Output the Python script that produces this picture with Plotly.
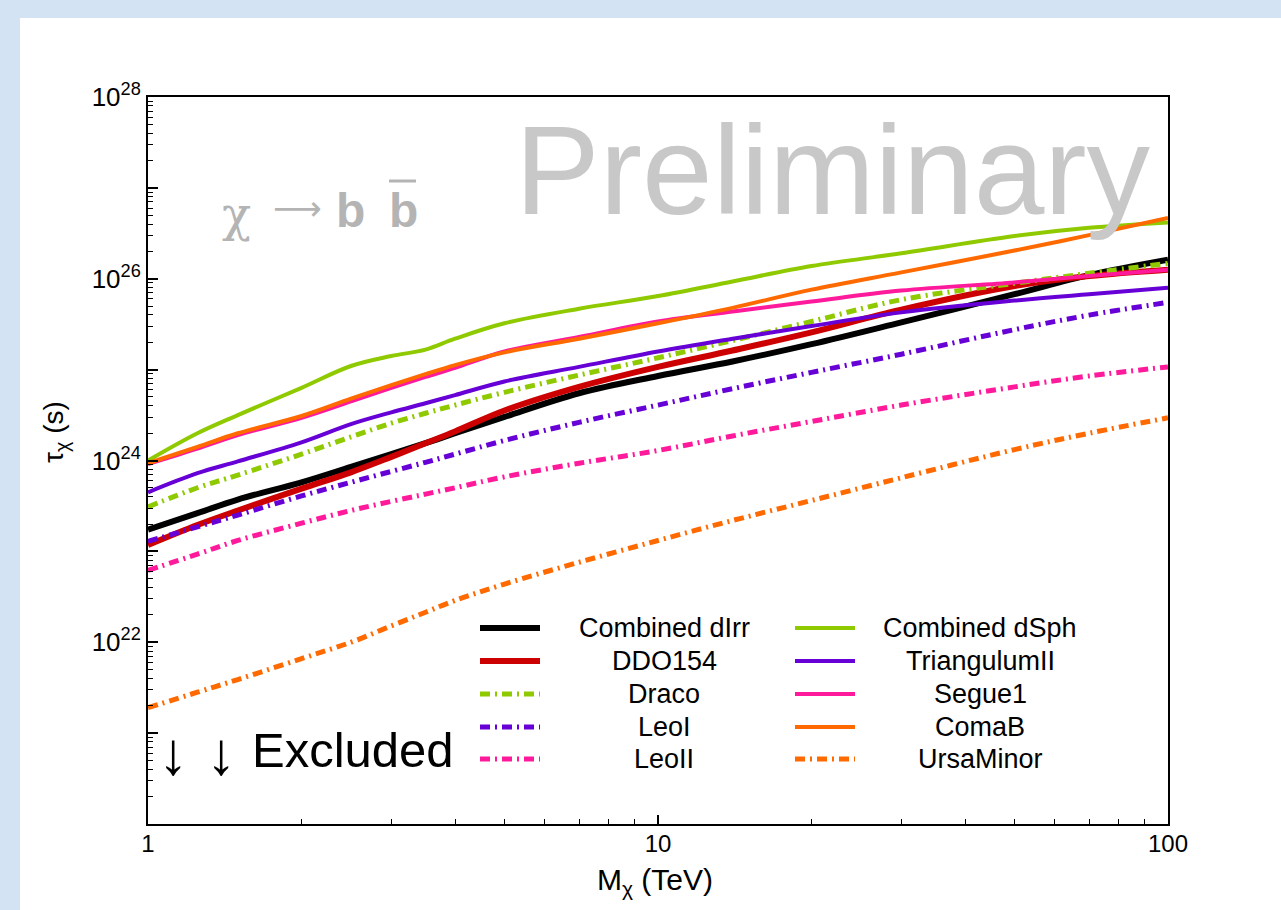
import plotly.graph_objects as go

# Dark-matter mass grid (TeV)
mass_tev = [1, 1.25, 1.5, 2, 2.5, 3, 3.5, 4, 5, 7, 10, 14, 20, 30, 50, 70, 100]

# 95% CL lower limits on the lifetime, stored as log10(tau / s)
log_tau_combined_dirr = [23.24, 23.42, 23.57, 23.76, 23.93, 24.07, 24.19, 24.30, 24.48, 24.74, 24.93, 25.09, 25.28, 25.52, 25.83, 26.04, 26.21]
log_tau_ddo154 = [23.07, 23.29, 23.45, 23.69, 23.87, 24.04, 24.19, 24.32, 24.55, 24.81, 25.03, 25.21, 25.41, 25.66, 25.92, 26.03, 26.10]
log_tau_draco = [23.49, 23.70, 23.84, 24.07, 24.26, 24.41, 24.52, 24.61, 24.75, 24.94, 25.13, 25.32, 25.53, 25.77, 25.95, 26.06, 26.17]
log_tau_leoi = [23.11, 23.27, 23.40, 23.61, 23.76, 23.88, 23.98, 24.07, 24.22, 24.42, 24.61, 24.79, 24.97, 25.17, 25.44, 25.60, 25.74]
log_tau_leoii = [22.79, 22.97, 23.12, 23.31, 23.45, 23.55, 23.63, 23.70, 23.82, 23.97, 24.11, 24.27, 24.43, 24.61, 24.81, 24.93, 25.03]
log_tau_combined_dsph = [24.00, 24.30, 24.50, 24.80, 25.04, 25.15, 25.22, 25.34, 25.51, 25.67, 25.81, 25.97, 26.14, 26.28, 26.47, 26.56, 26.62]
log_tau_triangulumii = [23.65, 23.86, 23.99, 24.20, 24.40, 24.53, 24.63, 24.72, 24.87, 25.03, 25.20, 25.34, 25.48, 25.63, 25.76, 25.83, 25.90]
log_tau_segue1 = [23.96, 24.13, 24.28, 24.47, 24.65, 24.80, 24.92, 25.02, 25.20, 25.36, 25.53, 25.64, 25.75, 25.87, 25.96, 26.03, 26.10]
log_tau_comab = [23.97, 24.15, 24.30, 24.49, 24.68, 24.83, 24.95, 25.05, 25.19, 25.34, 25.51, 25.68, 25.88, 26.07, 26.31, 26.48, 26.67]
log_tau_ursaminor = [21.28, 21.45, 21.59, 21.82, 22.00, 22.18, 22.33, 22.46, 22.64, 22.88, 23.12, 23.34, 23.56, 23.81, 24.12, 24.30, 24.47]

# Axis tick labels
x_tick_values = [1, 10, 100]
x_tick_labels = ["1", "10", "100"]
y_tick_exponents = [20, 21, 22, 23, 24, 25, 26, 27, 28]
y_labelled_exponents = [22, 24, 26, 28]

BLACK = "#000000"
RED = "#cc0000"
GREEN = "#8fca00"
VIOLET = "#6600d6"
PINK = "#ff1a9c"
ORANGE = "#ff6a00"
DASHDOT = "10px,5px,2px,5px"

# name, values, colour, dash, width, legend column
series = [
    ("Combined dIrr", log_tau_combined_dirr, BLACK, "solid", 6, 0),
    ("DDO154", log_tau_ddo154, RED, "solid", 6, 0),
    ("Draco", log_tau_draco, GREEN, DASHDOT, 5, 0),
    ("LeoI", log_tau_leoi, VIOLET, DASHDOT, 5, 0),
    ("LeoII", log_tau_leoii, PINK, DASHDOT, 5, 0),
    ("Combined dSph", log_tau_combined_dsph, GREEN, "solid", 4, 1),
    ("TriangulumII", log_tau_triangulumii, VIOLET, "solid", 4, 1),
    ("Segue1", log_tau_segue1, PINK, "solid", 4, 1),
    ("ComaB", log_tau_comab, ORANGE, "solid", 4, 1),
    ("UrsaMinor", log_tau_ursaminor, ORANGE, DASHDOT, 5, 1),
]

W, H = 1281, 910
PL, PR, PT, PB = 148, 1168, 97, 824
FONT = "Liberation Sans, Arial, Helvetica, sans-serif"


def fx(px):
    return (px - PL) / (PR - PL)


def fy(py):
    return (PB - py) / (PB - PT)


fig = go.Figure()
for name, vals, color, dash, width, _ in series:
    fig.add_trace(go.Scatter(
        x=mass_tev, y=[10 ** v for v in vals], mode="lines", name=name,
        line=dict(color=color, dash=dash, width=width, shape="spline", smoothing=1.0),
        showlegend=False,
    ))

shapes = [
    # white slide panel over the blue backdrop
    dict(type="rect", xref="paper", yref="paper", layer="below",
         x0=fx(20), x1=fx(W + 5), y0=fy(H + 5), y1=fy(18),
         fillcolor="white", line=dict(width=0)),
]
annotations = []

# two-column legend: sample line + centred label
row_y = [628, 661, 694, 727, 759]
col_sample = [(480, 540), (795, 855)]
col_text = [664, 980]
rows = [0, 0]
for name, vals, color, dash, width, col in series:
    r = rows[col]
    rows[col] += 1
    y = fy(row_y[r])
    shapes.append(dict(type="line", xref="paper", yref="paper", layer="above",
                       x0=fx(col_sample[col][0]), x1=fx(col_sample[col][1]), y0=y, y1=y,
                       line=dict(color=color, dash=dash, width=width)))
    annotations.append(dict(xref="paper", yref="paper", x=fx(col_text[col]), y=y,
                            text=name, showarrow=False, xanchor="center", yanchor="middle",
                            font=dict(family=FONT, size=27, color="black")))

# watermark and channel label
annotations.append(dict(xref="paper", yref="paper", x=fx(1153), y=fy(170), text="Preliminary",
                        showarrow=False, xanchor="right", yanchor="middle",
                        font=dict(family=FONT, size=127, color="#c8c8c8")))
GREY = "#b4b4b4"
annotations.append(dict(xref="paper", yref="paper", x=fx(236), y=fy(214), text="χ",
                        showarrow=False, xanchor="center", yanchor="middle",
                        font=dict(family="DejaVu Serif, serif", size=48, color=GREY)))
annotations.append(dict(xref="paper", yref="paper", x=fx(297), y=fy(208), text="⟶",
                        showarrow=False, xanchor="center", yanchor="middle",
                        font=dict(family="DejaVu Sans, sans-serif", size=34, color=GREY)))
for cx in [350, 403]:
    annotations.append(dict(xref="paper", yref="paper", x=fx(cx), y=fy(210), text="<b>b</b>",
                            showarrow=False, xanchor="center", yanchor="middle",
                            font=dict(family=FONT, size=48, color=GREY)))
shapes.append(dict(type="line", xref="paper", yref="paper", layer="above",
                   x0=fx(389), x1=fx(416), y0=fy(181), y1=fy(181),
                   line=dict(color=GREY, width=3)))

# excluded region marker
for cx in [173, 221]:
    annotations.append(dict(xref="paper", yref="paper", x=fx(cx), y=fy(753), text="↓",
                            showarrow=False, xanchor="center", yanchor="middle",
                            font=dict(family=FONT, size=60, color="black")))
annotations.append(dict(xref="paper", yref="paper", x=fx(250), y=fy(750), text="Excluded",
                        showarrow=False, xanchor="left", yanchor="middle",
                        font=dict(family=FONT, size=49, color="black")))

# axis titles
annotations.append(dict(xref="paper", yref="paper", x=fx(655), y=fy(881),
                        text="M<sub>χ</sub> (TeV)", showarrow=False,
                        xanchor="center", yanchor="middle",
                        font=dict(family=FONT, size=30, color="black")))
annotations.append(dict(xref="paper", yref="paper", x=fx(55), y=fy(432),
                        text="τ<sub>χ</sub> (s)", showarrow=False, textangle=-90,
                        xanchor="center", yanchor="middle",
                        font=dict(family=FONT, size=28, color="black")))

x_minor = [k * 10 ** d for d in (0, 1) for k in range(2, 10)]
y_minor = [k * 10.0 ** e for e in y_tick_exponents[:-1] for k in range(2, 10)]

fig.update_layout(
    width=W, height=H,
    margin=dict(l=PL, r=W - PR, t=PT, b=H - PB),
    paper_bgcolor="#d3e3f4", plot_bgcolor="rgba(0,0,0,0)",
    shapes=shapes, annotations=annotations,
    showlegend=False,
    xaxis=dict(
        type="log", range=[0, 2], showgrid=False, zeroline=False,
        showline=True, linecolor="black", linewidth=2, mirror=True,
        tickmode="array", tickvals=x_tick_values, ticktext=x_tick_labels,
        ticks="inside", ticklen=9, tickwidth=1.5, tickcolor="black",
        ticklabelstandoff=-3,
        minor=dict(tickmode="array", tickvals=x_minor, ticks="inside", ticklen=5,
                   tickwidth=1.2, tickcolor="black", showgrid=False),
        tickfont=dict(family=FONT, size=24, color="black"),
    ),
    yaxis=dict(
        type="log", range=[20, 28], showgrid=False, zeroline=False,
        showline=True, linecolor="black", linewidth=2, mirror=True,
        tickmode="array", tickvals=[10.0 ** e for e in y_tick_exponents],
        ticktext=[f"10<sup>{e}</sup>" if e in y_labelled_exponents else "" for e in y_tick_exponents],
        ticks="inside", ticklen=10, tickwidth=1.5, tickcolor="black",
        minor=dict(tickmode="array", tickvals=y_minor, ticks="inside", ticklen=5,
                   tickwidth=1.2, tickcolor="black", showgrid=False),
        tickfont=dict(family=FONT, size=26, color="black"),
    ),
)

fig.write_html("out.html")
